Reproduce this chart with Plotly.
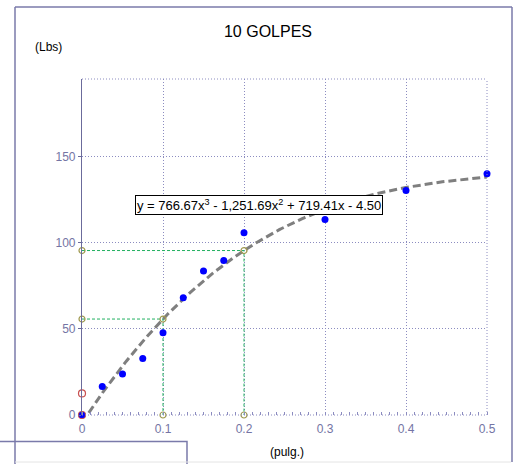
import numpy as np
import plotly.graph_objects as go

# Data
x_pts = [0.0, 0.025, 0.05, 0.075, 0.1, 0.125, 0.15, 0.175, 0.2, 0.3, 0.4, 0.5]
y_pts = [0.0, 16.5, 23.8, 32.8, 47.8, 68.0, 83.5, 89.7, 105.7, 113.5, 130.3, 140.0]
coef = [766.67, -1251.69, 719.41, -4.50]  # cubic fit
guide_x = [0.1, 0.2]
red_marks_y = [12.5, 0.0]
x_ticks = [0, 0.1, 0.2, 0.3, 0.4, 0.5]
y_ticks = [0, 50, 100, 150]

axis_col = "#6b6b9b"
tick_col = "#7474a4"
grid_col = "#8c8cc0"

L, R, T, B = 82, 487, 79, 415  # plot area in page pixels
W, H = float(R - L), float(B - T)

fig = go.Figure()

# fitted curve
xf = np.linspace(0, 0.5, 300)
yf = np.polyval(coef, xf)
fig.add_trace(go.Scatter(x=xf, y=yf, mode="lines",
                         line=dict(color="#7f7f7f", width=3, dash="8px,4px"),
                         hoverinfo="skip", showlegend=False))

# guide lines
for gx in guide_x:
    gy = float(np.polyval(coef, gx))
    fig.add_trace(go.Scatter(x=[0, gx, gx], y=[gy, gy, 0], mode="lines+markers",
                             line=dict(color="#22b060", width=1, dash="3px,2px"),
                             marker=dict(symbol="circle-open", size=6, color="#a09a50",
                                         line=dict(width=1.2)),
                             cliponaxis=False, showlegend=False))

# data points
fig.add_trace(go.Scatter(x=x_pts, y=y_pts, mode="markers",
                         marker=dict(color="#0000ff", size=7),
                         cliponaxis=False, showlegend=False))

# red open markers on axis
fig.add_trace(go.Scatter(x=[0] * len(red_marks_y), y=red_marks_y, mode="markers",
                         marker=dict(symbol="circle-open", size=7, color="#c85050",
                                     line=dict(width=1.2)),
                         cliponaxis=False, showlegend=False))
fig.add_trace(go.Scatter(x=[0], y=[0], mode="markers",
                         marker=dict(symbol="square", size=5, color="#0000ff"),
                         cliponaxis=False, showlegend=False))

fig.update_layout(
    width=521, height=464,
    margin=dict(l=L, r=521 - R, t=T, b=464 - B),
    paper_bgcolor="white", plot_bgcolor="white",
    font=dict(family="Liberation Sans, Arial, sans-serif", size=12, color=tick_col),
    title=dict(text="10 GOLPES", x=268 / 521, xanchor="center",
               y=1 - 31 / 464, yanchor="middle",
               font=dict(size=16, color="black")),
    showlegend=False,
)
fig.update_xaxes(range=[0, 0.5], tickvals=x_ticks, ticktext=[str(v) for v in x_ticks],
                 showgrid=True, gridcolor=grid_col, griddash="1px,2px", gridwidth=1,
                 zeroline=False, showline=False, ticks="", ticklabelstandoff=5,
                 minor=dict(dtick=0.01, ticks="inside", ticklen=3, tickcolor=grid_col,
                            showgrid=False),
                 tickfont=dict(size=12, color=tick_col))
fig.update_yaxes(range=[0, 195], tickvals=y_ticks,
                 showgrid=True, gridcolor=grid_col, griddash="1px,2px", gridwidth=1,
                 zeroline=False, showline=True, linecolor=axis_col, linewidth=1.2,
                 ticks="outside", ticklen=3, tickcolor=axis_col,
                 tickfont=dict(size=12, color=tick_col))

def px(xp):
    return (xp - L) / W
def py(yp):
    return (B - yp) / H

# borders of plot area (dotted)
dot = dict(color=grid_col, width=1, dash="1px,2px")
fig.add_shape(type="line", xref="paper", yref="paper", x0=0, x1=1, y0=1, y1=1, line=dot)
fig.add_shape(type="line", xref="paper", yref="paper", x0=1, x1=1, y0=0, y1=1, line=dot)
fig.add_shape(type="line", xref="paper", yref="paper", x0=0, x1=1, y0=0, y1=0, line=dot)

# outer frame
frame = dict(color="#7a7aaa", width=1.5)
TOP = 7
fig.add_shape(type="line", xref="paper", yref="paper", x0=px(15), x1=px(512),
              y0=py(TOP), y1=py(TOP), line=frame)
fig.add_shape(type="line", xref="paper", yref="paper", x0=px(15), x1=px(15),
              y0=py(TOP), y1=py(470), line=frame)
fig.add_shape(type="line", xref="paper", yref="paper", x0=px(512), x1=px(512),
              y0=py(TOP), y1=py(462), line=frame)
fig.add_shape(type="path", xref="paper", yref="paper",
              path="M %f,%f L %f,%f L %f,%f" % (px(0), py(441.5), px(187), py(441.5), px(187), py(470)),
              line=frame)
fig.add_shape(type="line", xref="paper", yref="paper", x0=px(15), x1=px(511), y0=py(462), y1=py(462),
              line=dict(color="#e4e4e4", width=1))

# axis titles
fig.add_annotation(text="(Lbs)", xref="paper", yref="paper", x=px(48), y=py(47),
                   showarrow=False, font=dict(size=12, color="black"), xanchor="center", yanchor="middle")
fig.add_annotation(text="(pulg.)", xref="paper", yref="paper", x=px(287), y=py(452),
                   showarrow=False, font=dict(size=12, color="black"), xanchor="center", yanchor="middle")

# equation label
fig.add_annotation(text="y = 766.67x<sup>3</sup> - 1,251.69x<sup>2</sup> + 719.41x - 4.50",
                   xref="paper", yref="paper", x=px(259), y=py(205), showarrow=False,
                   font=dict(size=13, color="black"), bgcolor="white",
                   bordercolor="black", borderwidth=1, borderpad=1,
                   xanchor="center", yanchor="middle")

fig.write_html("out.html", config={"displayModeBar": False},
               post_script="document.body.style.margin='0';")
